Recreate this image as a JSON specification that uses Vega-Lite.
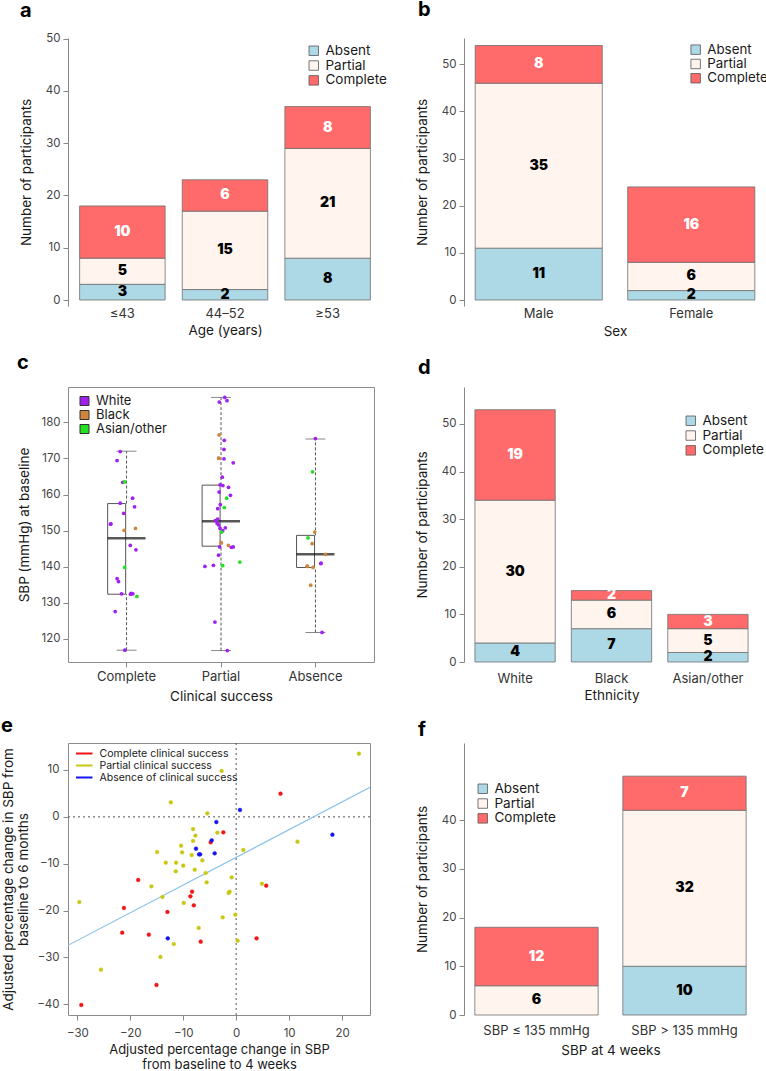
{
"$schema":"https://vega.github.io/schema/vega-lite/v6.json",
"background":"white",
"padding":{"left":0,"top":0,"right":0,"bottom":0},
"autosize":{"type":"pad"},
"columns":2,
"spacing":{"row":81,"column":82},
"bounds":"flush",
"align":"each",
"resolve":{"scale":{"color":"independent","fill":"independent","stroke":"independent","x":"independent","y":"independent"},"legend":{"color":"independent","fill":"independent","stroke":"independent"}},
"concat":[
{
 "width":314,"height":268,
 "title":{"text":"a","dx":-48,"offset":12},
 "data":{"values":[
  {"cat":"≤43","status":"Absent","ord":1,"n":3},{"cat":"≤43","status":"Partial","ord":2,"n":5},{"cat":"≤43","status":"Complete","ord":3,"n":10},
  {"cat":"44–52","status":"Absent","ord":1,"n":2},{"cat":"44–52","status":"Partial","ord":2,"n":15},{"cat":"44–52","status":"Complete","ord":3,"n":6},
  {"cat":"≥53","status":"Absent","ord":1,"n":8},{"cat":"≥53","status":"Partial","ord":2,"n":21},{"cat":"≥53","status":"Complete","ord":3,"n":8}]},
 "transform":[{"stack":"n","groupby":["cat"],"sort":[{"field":"ord","order":"ascending"}],"as":["s0","s1"]}],
 "encoding":{"x":{"field":"cat","type":"nominal","title":"Age (years)","scale":{"type":"band","domain":["≤43","44–52","≥53"],"paddingInner":0.1667,"paddingOuter":0.113},"axis":{"domain":false,"ticks":false,"labelAngle":0,"labelPadding":1.5,"labelFontSize":13,"labelColor":"#333","titlePadding":3}}},
 "layer":[
  {"mark":{"type":"bar","stroke":"#6e6e6e","strokeWidth":0.8,"width":85.5},
   "encoding":{"y":{"field":"s0","type":"quantitative","title":"Number of participants","scale":{"domain":[-1.148,50.13],"nice":false,"zero":false},"axis":{"values":[0,10,20,30,40,50],"domain":true,"titlePadding":11.5}},"y2":{"field":"s1"},
    "color":{"field":"status","type":"nominal","scale":{"domain":["Absent","Partial","Complete"],"range":["#ADD8E6","#FFF5EE","#FF6A6A"]},"legend":{"title":null,"orient":"none","legendX":239,"legendY":6,"symbolType":"square","symbolSize":90,"labelFontSize":13.5,"symbolStrokeColor":"#555","symbolStrokeWidth":0.8,"rowPadding":-0.2,"labelOffset":5}}}},
  {"transform":[{"fold":["s0","s1"],"as":["k","v"]},{"aggregate":[{"op":"mean","field":"v","as":"mid"}],"groupby":["cat","status","n"]}],
   "mark":{"type":"text","fontSize":14,"fontWeight":900,"baseline":"middle"},
   "encoding":{"y":{"field":"mid","type":"quantitative","title":"Number of participants"},"text":{"field":"n","type":"quantitative"},"color":{"condition":{"test":"datum.status === 'Complete'","value":"white"},"value":"black"}}}
 ]
},
{
 "width":302,"height":268,
 "title":{"text":"b","dx":-46,"offset":18},
 "data":{"values":[
  {"cat":"Male","status":"Absent","ord":1,"n":11},{"cat":"Male","status":"Partial","ord":2,"n":35},{"cat":"Male","status":"Complete","ord":3,"n":8},
  {"cat":"Female","status":"Absent","ord":1,"n":2},{"cat":"Female","status":"Partial","ord":2,"n":6},{"cat":"Female","status":"Complete","ord":3,"n":16}]},
 "transform":[{"stack":"n","groupby":["cat"],"sort":[{"field":"ord","order":"ascending"}],"as":["s0","s1"]}],
 "encoding":{"x":{"field":"cat","type":"nominal","title":"Sex","scale":{"type":"band","domain":["Male","Female"],"paddingInner":0.1667,"paddingOuter":0.0733},"axis":{"domain":false,"ticks":false,"labelAngle":0,"labelPadding":1.5,"labelFontSize":13,"labelColor":"#333","titlePadding":4}}},
 "layer":[
  {"mark":{"type":"bar","stroke":"#6e6e6e","strokeWidth":0.8,"width":127.1},
   "encoding":{"y":{"field":"s0","type":"quantitative","title":"Number of participants","scale":{"domain":[-1.273,55.59],"nice":false,"zero":false},"axis":{"values":[0,10,20,30,40,50],"domain":true,"titlePadding":11.5}},"y2":{"field":"s1"},
    "color":{"field":"status","type":"nominal","scale":{"domain":["Absent","Partial","Complete"],"range":["#ADD8E6","#FFF5EE","#FF6A6A"]},"legend":{"title":null,"orient":"none","legendX":225,"legendY":5,"symbolType":"square","symbolSize":90,"labelFontSize":13.3,"symbolStrokeColor":"#555","symbolStrokeWidth":0.8,"rowPadding":0.3,"labelOffset":5}}}},
  {"transform":[{"fold":["s0","s1"],"as":["k","v"]},{"aggregate":[{"op":"mean","field":"v","as":"mid"}],"groupby":["cat","status","n"]}],
   "mark":{"type":"text","fontSize":14,"fontWeight":900,"baseline":"middle"},
   "encoding":{"y":{"field":"mid","type":"quantitative","title":"Number of participants"},"text":{"field":"n","type":"quantitative"},"color":{"condition":{"test":"datum.status === 'Complete'","value":"white"},"value":"black"}}}
 ]
},
{
 "width":306,"height":275,
 "view":{"stroke":"#8c8c8c"},
 "title":{"text":"c","dx":-51,"offset":14},
 "layer":[
  {"data":{"values":[
    {"g":"Complete","lower":116.9,"q1":132.4,"med":147.9,"q3":157.5,"upper":172.0},
    {"g":"Partial","lower":116.8,"q1":145.7,"med":152.6,"q3":162.6,"upper":186.9},
    {"g":"Absence","lower":121.8,"q1":139.8,"med":143.5,"q3":148.7,"upper":175.4}]},
   "encoding":{"x":{"field":"g","type":"nominal","title":"Clinical success","scale":{"type":"band","domain":["Complete","Partial","Absence"],"paddingInner":0,"paddingOuter":0.12},"axis":{"domain":false,"labelAngle":0,"labelFontSize":13,"labelColor":"#333","labelPadding":3,"titlePadding":6}}},
   "layer":[
    {"mark":{"type":"rule","strokeDash":[3,2],"color":"#555","strokeWidth":1},"encoding":{"y":{"field":"lower","type":"quantitative","title":"SBP (mmHg) at baseline","scale":{"domain":[113.63,189.78],"nice":false,"zero":false},"axis":{"values":[120,130,140,150,160,170,180],"domain":false,"titlePadding":9}},"y2":{"field":"q1"}}},
    {"mark":{"type":"rule","strokeDash":[3,2],"color":"#555","strokeWidth":1},"encoding":{"y":{"field":"q3","type":"quantitative","title":"SBP (mmHg) at baseline"},"y2":{"field":"upper"}}},
    {"mark":{"type":"bar","fill":"white","stroke":"#555","strokeWidth":1,"width":{"band":0.4}},"encoding":{"y":{"field":"q1","type":"quantitative","title":"SBP (mmHg) at baseline"},"y2":{"field":"q3"}}},
    {"mark":{"type":"tick","color":"#111","thickness":2.5,"size":38},"encoding":{"y":{"field":"med","type":"quantitative","title":"SBP (mmHg) at baseline"}}},
    {"mark":{"type":"tick","color":"#555","thickness":1,"size":20},"encoding":{"y":{"field":"lower","type":"quantitative","title":"SBP (mmHg) at baseline"}}},
    {"mark":{"type":"tick","color":"#555","thickness":1,"size":20},"encoding":{"y":{"field":"upper","type":"quantitative","title":"SBP (mmHg) at baseline"}}}
   ]},
  {"data":{"values":[
    {"g":"Complete","eth":"White","sbp":171.9,"j":-0.067},{"g":"Complete","eth":"White","sbp":169.4,"j":-0.1},{"g":"Complete","eth":"White","sbp":163.4,"j":-0.04},{"g":"Complete","eth":"White","sbp":159.0,"j":0.064},{"g":"Complete","eth":"White","sbp":157.6,"j":-0.067},{"g":"Complete","eth":"White","sbp":156.6,"j":0.085},{"g":"Complete","eth":"White","sbp":154.8,"j":-0.03},{"g":"Complete","eth":"White","sbp":151.8,"j":-0.17},{"g":"Complete","eth":"White","sbp":145.9,"j":0.04},{"g":"Complete","eth":"White","sbp":144.7,"j":0.1},{"g":"Complete","eth":"White","sbp":136.7,"j":-0.1},{"g":"Complete","eth":"White","sbp":135.9,"j":-0.085},{"g":"Complete","eth":"White","sbp":132.5,"j":-0.053},{"g":"Complete","eth":"White","sbp":132.4,"j":0.042},{"g":"Complete","eth":"White","sbp":132.5,"j":0.067},{"g":"Complete","eth":"White","sbp":127.6,"j":-0.12},{"g":"Complete","eth":"White","sbp":116.9,"j":-0.018},{"g":"Complete","eth":"White","sbp":132.6,"j":0.05},{"g":"Complete","eth":"White","sbp":151.9,"j":-0.165},
    {"g":"Complete","eth":"Black","sbp":150.1,"j":-0.025},{"g":"Complete","eth":"Black","sbp":150.6,"j":0.095},
    {"g":"Complete","eth":"Asian/other","sbp":163.5,"j":-0.02},{"g":"Complete","eth":"Asian/other","sbp":139.8,"j":-0.02},{"g":"Complete","eth":"Asian/other","sbp":131.8,"j":0.11},
    {"g":"Partial","eth":"White","sbp":186.9,"j":0.04},{"g":"Partial","eth":"White","sbp":186.0,"j":0.064},{"g":"Partial","eth":"White","sbp":185.6,"j":-0.018},{"g":"Partial","eth":"White","sbp":175.0,"j":0.035},{"g":"Partial","eth":"White","sbp":172.5,"j":0.032},{"g":"Partial","eth":"White","sbp":169.9,"j":0.032},{"g":"Partial","eth":"White","sbp":168.8,"j":0.13},{"g":"Partial","eth":"White","sbp":164.8,"j":0.014},{"g":"Partial","eth":"White","sbp":162.7,"j":-0.01},{"g":"Partial","eth":"White","sbp":162.5,"j":0.02},{"g":"Partial","eth":"White","sbp":162.0,"j":0.08},{"g":"Partial","eth":"White","sbp":160.7,"j":-0.02},{"g":"Partial","eth":"White","sbp":159.8,"j":0.1},{"g":"Partial","eth":"White","sbp":157.2,"j":-0.007},{"g":"Partial","eth":"White","sbp":156.1,"j":-0.035},{"g":"Partial","eth":"White","sbp":152.8,"j":-0.06},{"g":"Partial","eth":"White","sbp":153.2,"j":-0.035},{"g":"Partial","eth":"White","sbp":152.0,"j":-0.04},{"g":"Partial","eth":"White","sbp":151.6,"j":-0.025},{"g":"Partial","eth":"White","sbp":150.7,"j":-0.01},{"g":"Partial","eth":"White","sbp":150.0,"j":0.018},{"g":"Partial","eth":"White","sbp":150.8,"j":0.046},{"g":"Partial","eth":"White","sbp":145.5,"j":-0.014},{"g":"Partial","eth":"White","sbp":145.4,"j":0.11},{"g":"Partial","eth":"White","sbp":145.5,"j":0.13},{"g":"Partial","eth":"White","sbp":143.2,"j":-0.025},{"g":"Partial","eth":"White","sbp":140.1,"j":-0.17},{"g":"Partial","eth":"White","sbp":140.4,"j":-0.08},{"g":"Partial","eth":"White","sbp":124.7,"j":-0.064},{"g":"Partial","eth":"White","sbp":116.8,"j":0.067},
    {"g":"Partial","eth":"Black","sbp":176.5,"j":-0.02},{"g":"Partial","eth":"Black","sbp":170.1,"j":-0.025},{"g":"Partial","eth":"Black","sbp":146.6,"j":0.004},{"g":"Partial","eth":"Black","sbp":145.9,"j":0.078},{"g":"Partial","eth":"Black","sbp":146.7,"j":0.0},{"g":"Partial","eth":"Black","sbp":170.0,"j":-0.022},
    {"g":"Partial","eth":"Asian/other","sbp":159.0,"j":0.06},{"g":"Partial","eth":"Asian/other","sbp":156.4,"j":0.035},{"g":"Partial","eth":"Asian/other","sbp":149.6,"j":0.007},{"g":"Partial","eth":"Asian/other","sbp":141.3,"j":0.2},{"g":"Partial","eth":"Asian/other","sbp":140.3,"j":0.018},
    {"g":"Absence","eth":"White","sbp":175.5,"j":0.0},{"g":"Absence","eth":"White","sbp":140.9,"j":0.057},{"g":"Absence","eth":"White","sbp":121.8,"j":0.07},{"g":"Absence","eth":"White","sbp":141.0,"j":0.06},
    {"g":"Absence","eth":"Black","sbp":149.6,"j":-0.007},{"g":"Absence","eth":"Black","sbp":146.4,"j":-0.035},{"g":"Absence","eth":"Black","sbp":143.4,"j":0.106},{"g":"Absence","eth":"Black","sbp":140.1,"j":-0.088},{"g":"Absence","eth":"Black","sbp":139.8,"j":-0.025},{"g":"Absence","eth":"Black","sbp":134.9,"j":-0.05},{"g":"Absence","eth":"Black","sbp":140.2,"j":-0.085},
    {"g":"Absence","eth":"Asian/other","sbp":166.3,"j":-0.03},{"g":"Absence","eth":"Asian/other","sbp":148.0,"j":-0.078}]},
   "mark":{"type":"circle","size":14,"opacity":1},
   "encoding":{"x":{"field":"g","type":"nominal","title":"Clinical success"},
    "xOffset":{"field":"j","type":"quantitative","scale":{"domain":[-0.5,0.5],"range":[0,94.4]}},
    "y":{"field":"sbp","type":"quantitative","title":"SBP (mmHg) at baseline"},
    "fill":{"field":"eth","type":"nominal","scale":{"domain":["White","Black","Asian/other"],"range":["#A020F0","#CD853F","#22E022"]},"legend":{"title":null,"orient":"none","legendX":10,"legendY":7.5,"symbolType":"square","symbolSize":81,"symbolStrokeColor":"#333","symbolStrokeWidth":1,"labelFontSize":13,"rowPadding":-1,"labelOffset":5}}}}
 ]
},
{
 "width":295,"height":275,
 "title":{"text":"d","dx":-46,"offset":9},
 "data":{"values":[
  {"cat":"White","status":"Absent","ord":1,"n":4},{"cat":"White","status":"Partial","ord":2,"n":30},{"cat":"White","status":"Complete","ord":3,"n":19},
  {"cat":"Black","status":"Absent","ord":1,"n":7},{"cat":"Black","status":"Partial","ord":2,"n":6},{"cat":"Black","status":"Complete","ord":3,"n":2},
  {"cat":"Asian/other","status":"Absent","ord":1,"n":2},{"cat":"Asian/other","status":"Partial","ord":2,"n":5},{"cat":"Asian/other","status":"Complete","ord":3,"n":3}]},
 "transform":[{"stack":"n","groupby":["cat"],"sort":[{"field":"ord","order":"ascending"}],"as":["s0","s1"]}],
 "encoding":{"x":{"field":"cat","type":"nominal","title":"Ethnicity","scale":{"type":"band","domain":["White","Black","Asian/other"],"paddingInner":0.1667,"paddingOuter":0.113},"axis":{"domain":false,"ticks":false,"labelAngle":0,"labelPadding":10,"labelFontSize":13,"labelColor":"#333","titlePadding":3}}},
 "layer":[
  {"mark":{"type":"bar","stroke":"#6e6e6e","strokeWidth":0.8,"width":80.3},
   "encoding":{"y":{"field":"s0","type":"quantitative","title":"Number of participants","scale":{"domain":[0,57.77],"nice":false,"zero":false},"axis":{"values":[0,10,20,30,40,50],"domain":true,"titlePadding":11.5}},"y2":{"field":"s1"},
    "color":{"field":"status","type":"nominal","scale":{"domain":["Absent","Partial","Complete"],"range":["#ADD8E6","#FFF5EE","#FF6A6A"]},"legend":{"title":null,"orient":"none","legendX":220,"legendY":27,"symbolType":"square","symbolSize":90,"labelFontSize":13.5,"symbolStrokeColor":"#555","symbolStrokeWidth":0.8,"rowPadding":-0.2,"labelOffset":5}}}},
  {"transform":[{"fold":["s0","s1"],"as":["k","v"]},{"aggregate":[{"op":"mean","field":"v","as":"mid"}],"groupby":["cat","status","n"]}],
   "mark":{"type":"text","fontSize":14,"fontWeight":900,"baseline":"middle"},
   "encoding":{"y":{"field":"mid","type":"quantitative","title":"Number of participants"},"text":{"field":"n","type":"quantitative"},"color":{"condition":{"test":"datum.status === 'Complete'","value":"white"},"value":"black"}}}
 ]
},
{
 "width":302,"height":272,
 "view":{"stroke":"#8c8c8c"},
 "title":{"text":"e","dx":-67,"offset":7},
 "layer":[
  {"data":{"values":[{"v":0}]},"mark":{"type":"rule","strokeDash":[2,3],"color":"#555"},
   "encoding":{"x":{"field":"v","type":"quantitative","title":["Adjusted percentage change in SBP","from baseline to 4 weeks"],"scale":{"domain":[-31.76,25.28],"nice":false,"zero":false},"axis":{"values":[-30,-20,-10,0,10,20],"domain":false,"labelPadding":7,"titlePadding":5,"titleFontSize":13,"titleLineHeight":14.5}}}},
  {"data":{"values":[{"v":0}]},"mark":{"type":"rule","strokeDash":[2,3],"color":"#555"},
   "encoding":{"y":{"field":"v","type":"quantitative","title":["Adjusted percentage change in SBP from","baseline to 6 months"],"scale":{"domain":[-42.28,15.76],"nice":false,"zero":false},"axis":{"values":[-40,-30,-20,-10,0,10],"domain":false,"labelPadding":4,"titlePadding":6,"titleFontSize":13.5,"titleLineHeight":15}}}},
  {"data":{"values":[{"px":-31.76,"py":-27.41},{"px":25.28,"py":6.3}]},"mark":{"type":"line","color":"#8EC3EA","strokeWidth":1.2,"clip":true},
   "encoding":{"x":{"field":"px","type":"quantitative","title":["Adjusted percentage change in SBP","from baseline to 4 weeks"]},"y":{"field":"py","type":"quantitative","title":["Adjusted percentage change in SBP from","baseline to 6 months"]}}},
  {"data":{"values":[
    {"grp":"Partial clinical success","px":23.2,"py":13.49},{"grp":"Partial clinical success","px":-2.74,"py":9.79},{"grp":"Partial clinical success","px":-12.35,"py":3.1},{"grp":"Partial clinical success","px":-5.44,"py":0.75},{"grp":"Partial clinical success","px":-8.14,"py":-2.6},{"grp":"Partial clinical success","px":-3.55,"py":-3.38},{"grp":"Partial clinical success","px":-7.7,"py":-4.0},{"grp":"Partial clinical success","px":-8.14,"py":-5.15},{"grp":"Partial clinical success","px":-10.4,"py":-6.15},{"grp":"Partial clinical success","px":-14.92,"py":-7.5},{"grp":"Partial clinical success","px":-10.21,"py":-7.57},{"grp":"Partial clinical success","px":-8.4,"py":-8.14},{"grp":"Partial clinical success","px":-6.38,"py":-9.27},{"grp":"Partial clinical success","px":-13.29,"py":-9.77},{"grp":"Partial clinical success","px":-11.34,"py":-9.77},{"grp":"Partial clinical success","px":-10.0,"py":-10.41},{"grp":"Partial clinical success","px":-11.4,"py":-11.62},{"grp":"Partial clinical success","px":-7.83,"py":-11.27},{"grp":"Partial clinical success","px":-5.75,"py":-11.98},{"grp":"Partial clinical success","px":-5.57,"py":-13.97},{"grp":"Partial clinical success","px":-16.0,"py":-14.82},{"grp":"Partial clinical success","px":-0.85,"py":-12.9},{"grp":"Partial clinical success","px":1.35,"py":-7.07},{"grp":"Partial clinical success","px":11.58,"py":-5.29},{"grp":"Partial clinical success","px":4.86,"py":-14.25},{"grp":"Partial clinical success","px":-13.92,"py":-17.1},{"grp":"Partial clinical success","px":-9.9,"py":-18.38},{"grp":"Partial clinical success","px":-1.23,"py":-15.96},{"grp":"Partial clinical success","px":-1.42,"py":-16.24},{"grp":"Partial clinical success","px":-2.55,"py":-21.44},{"grp":"Partial clinical success","px":-0.16,"py":-20.87},{"grp":"Partial clinical success","px":0.28,"py":-26.41},{"grp":"Partial clinical success","px":-7.07,"py":-23.71},{"grp":"Partial clinical success","px":-11.78,"py":-27.13},{"grp":"Partial clinical success","px":-29.62,"py":-18.17},{"grp":"Partial clinical success","px":-14.3,"py":-29.9},{"grp":"Partial clinical success","px":-25.54,"py":-32.6},
    {"grp":"Complete clinical success","px":-29.25,"py":-40.14},{"grp":"Complete clinical success","px":-15.05,"py":-35.87},{"grp":"Complete clinical success","px":-21.52,"py":-24.71},{"grp":"Complete clinical success","px":-16.5,"py":-25.13},{"grp":"Complete clinical success","px":-21.2,"py":-19.44},{"grp":"Complete clinical success","px":-18.5,"py":-13.47},{"grp":"Complete clinical success","px":-12.98,"py":-20.3},{"grp":"Complete clinical success","px":-8.33,"py":-15.96},{"grp":"Complete clinical success","px":-8.64,"py":-16.96},{"grp":"Complete clinical success","px":-8.0,"py":-18.88},{"grp":"Complete clinical success","px":-6.7,"py":-26.63},{"grp":"Complete clinical success","px":-4.81,"py":-5.43},{"grp":"Complete clinical success","px":-2.42,"py":-3.3},{"grp":"Complete clinical success","px":8.38,"py":4.95},{"grp":"Complete clinical success","px":5.68,"py":-14.68},{"grp":"Complete clinical success","px":3.86,"py":-25.92},
    {"grp":"Absence of clinical success","px":-12.91,"py":-25.92},{"grp":"Absence of clinical success","px":-7.58,"py":-6.79},{"grp":"Absence of clinical success","px":-7.0,"py":-8.0},{"grp":"Absence of clinical success","px":-6.8,"py":-8.0},{"grp":"Absence of clinical success","px":-4.62,"py":-5.0},{"grp":"Absence of clinical success","px":-3.74,"py":-1.1},{"grp":"Absence of clinical success","px":-4.06,"py":-7.78},{"grp":"Absence of clinical success","px":0.72,"py":1.47},{"grp":"Absence of clinical success","px":18.18,"py":-3.8}]},
   "mark":{"type":"circle","size":14,"opacity":1,"strokeWidth":0.5},
   "encoding":{"x":{"field":"px","type":"quantitative","title":["Adjusted percentage change in SBP","from baseline to 4 weeks"]},"y":{"field":"py","type":"quantitative","title":["Adjusted percentage change in SBP from","baseline to 6 months"]},
    "fill":{"field":"grp","type":"nominal","scale":{"domain":["Complete clinical success","Partial clinical success","Absence of clinical success"],"range":["#F01414","#C8C814","#1414F0"]},"legend":{"title":null,"orient":"none","legendX":9.75,"legendY":4,"symbolType":"M-1.5,0L1.5,0","symbolSize":121,"symbolStrokeWidth":2,"labelFontSize":10.5,"rowPadding":-3.7,"labelOffset":8.75}},
    "stroke":{"field":"grp","type":"nominal","scale":{"domain":["Complete clinical success","Partial clinical success","Absence of clinical success"],"range":["#F01414","#C8C814","#1414F0"]},"legend":{"title":null,"orient":"none","legendX":9.75,"legendY":4,"symbolType":"M-1.5,0L1.5,0","symbolSize":121,"symbolStrokeWidth":2,"labelFontSize":10.5,"rowPadding":-3.7,"labelOffset":8.75}}}}
 ]
},
{
 "width":293,"height":272,
 "title":{"text":"f","dx":-46,"offset":3},
 "data":{"values":[
  {"cat":"SBP ≤ 135 mmHg","status":"Partial","ord":2,"n":6},{"cat":"SBP ≤ 135 mmHg","status":"Complete","ord":3,"n":12},
  {"cat":"SBP > 135 mmHg","status":"Absent","ord":1,"n":10},{"cat":"SBP > 135 mmHg","status":"Partial","ord":2,"n":32},{"cat":"SBP > 135 mmHg","status":"Complete","ord":3,"n":7}]},
 "transform":[{"stack":"n","groupby":["cat"],"sort":[{"field":"ord","order":"ascending"}],"as":["s0","s1"]}],
 "encoding":{"x":{"field":"cat","type":"nominal","title":"SBP at 4 weeks","scale":{"type":"band","domain":["SBP ≤ 135 mmHg","SBP > 135 mmHg"],"paddingInner":0.1667,"paddingOuter":0.0733},"axis":{"domain":false,"ticks":false,"labelAngle":0,"labelPadding":9,"labelFontSize":13,"labelColor":"#333","titlePadding":6}}},
 "layer":[
  {"mark":{"type":"bar","stroke":"#6e6e6e","strokeWidth":0.8,"width":123.3},
   "encoding":{"y":{"field":"s0","type":"quantitative","title":"Number of participants","scale":{"domain":[0,55.8],"nice":false,"zero":false},"axis":{"values":[0,10,20,30,40],"domain":true,"titlePadding":11.5}},"y2":{"field":"s1"},
    "color":{"field":"status","type":"nominal","scale":{"domain":["Absent","Partial","Complete"],"range":["#ADD8E6","#FFF5EE","#FF6A6A"]},"legend":{"title":null,"orient":"none","legendX":12,"legendY":39,"symbolType":"square","symbolSize":90,"labelFontSize":13.5,"symbolStrokeColor":"#555","symbolStrokeWidth":0.8,"rowPadding":-0.2,"labelOffset":5}}}},
  {"transform":[{"fold":["s0","s1"],"as":["k","v"]},{"aggregate":[{"op":"mean","field":"v","as":"mid"}],"groupby":["cat","status","n"]}],
   "mark":{"type":"text","fontSize":14,"fontWeight":900,"baseline":"middle"},
   "encoding":{"y":{"field":"mid","type":"quantitative","title":"Number of participants"},"text":{"field":"n","type":"quantitative"},"color":{"condition":{"test":"datum.status === 'Complete'","value":"white"},"value":"black"}}}
 ]
}
],
"config":{
 "font":"Inter",
 "view":{"stroke":null},
 "axis":{"grid":false,"labelFont":"Inter","titleFont":"Inter","labelColor":"#444","titleColor":"#1a1a1a","tickColor":"#888","domainColor":"#888","labelFontSize":11.5,"titleFontSize":13.5,"titleFontWeight":"normal","tickSize":5,"labelPadding":3},
 "legend":{"labelFont":"Inter","labelColor":"#1a1a1a","padding":0},
 "title":{"font":"Inter","fontSize":20,"fontWeight":"bold","anchor":"start","frame":"group","baseline":"alphabetic","color":"#000"}
}
}
